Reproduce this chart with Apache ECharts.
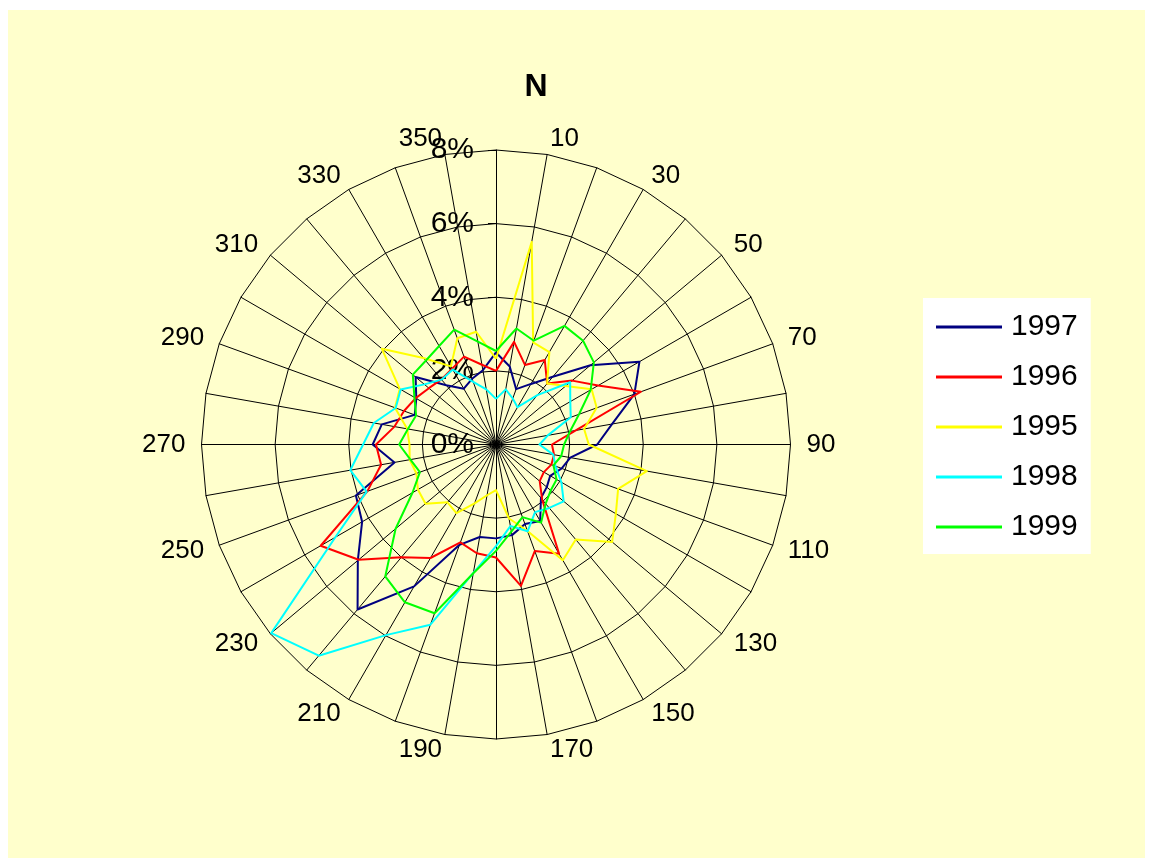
<!DOCTYPE html>
<html>
<head>
<meta charset="utf-8">
<script src="https://cdn.jsdelivr.net/npm/echarts@6/dist/echarts.min.js"></script>
<style>
html,body{margin:0;padding:0;background:#ffffff;}
#chart{position:absolute;left:8px;top:10px;width:1137px;height:848px;background:#FFFFCC;}
</style>
</head>
<body>
<div id="chart"></div>
<script>
// Wind directions (degrees), one spoke every 10 degrees
const directions = [0,10,20,30,40,50,60,70,80,90,100,110,120,130,140,150,160,170,
                    180,190,200,210,220,230,240,250,260,270,280,290,300,310,320,330,340,350];
const years = ['1997','1996','1995','1998','1999'];
// Frequency (%) per direction
const y1997 = [2.5,2.15,1.6,1.9,2.4,3.35,4.5,4.0,3.2,2.75,2.05,1.9,1.7,1.8,1.9,2.4,2.3,2.5,
               2.55,2.55,2.9,4.45,5.85,4.9,4.2,4.05,2.8,3.35,3.15,2.35,2.5,2.85,2.1,1.75,1.9,2.05];
const y1996 = [2.0,2.83,2.3,2.65,2.16,2.7,3.2,4.19,2.2,1.52,1.6,1.6,1.5,1.55,1.95,3.43,3.08,3.9,
               3.07,3.0,2.83,3.56,4.0,4.87,5.5,3.72,3.17,3.26,2.8,2.66,2.52,2.38,2.31,2.38,2.54,2.2];
const y1995 = [2.33,5.59,2.95,2.9,2.16,2.47,3.0,2.91,2.43,2.52,4.16,3.53,3.76,4.12,3.37,3.63,2.5,2.04,
               1.24,1.4,1.7,2.15,2.05,2.5,2.45,2.3,2.38,2.35,2.45,2.92,3.02,4.05,3.07,2.45,3.07,3.11];
const y1998 = [1.24,1.52,1.33,1.17,1.75,2.63,2.33,2.16,1.43,1.18,1.58,1.72,2.05,2.4,2.25,2.12,2.51,2.25,
               2.76,3.54,5.21,5.98,7.49,7.97,5.04,3.74,4.02,3.61,3.37,2.9,2.99,2.54,2.3,2.35,1.81,1.52];
const y1999 = [2.54,3.2,3.0,3.72,3.68,3.47,2.97,2.4,2.04,1.85,1.8,1.66,1.9,1.94,2.1,2.45,2.1,2.4,
               2.89,3.55,4.88,4.95,4.68,3.56,2.62,2.2,2.36,2.63,2.43,2.31,2.56,2.95,2.97,3.09,3.32,2.84];
const valueMin = 0, valueMax = 8;

const seriesValues = [y1997, y1996, y1995, y1998, y1999];
const colors = ['#000080','#FF0000','#FFFF00','#00FFFF','#00FF00'];
const FONT = '"Liberation Sans", Arial, sans-serif';

// ECharts radar runs counter-clockwise; reorder so directions run clockwise from north
const order = [0];
for (let k = directions.length - 1; k >= 1; k--) order.push(k);

const indicator = order.map((idx, k) => {
  const ind = { name: String(directions[idx]), min: valueMin, max: valueMax };
  if (k === 0) {
    ind.axisLabel = { show: true };
    ind.axisTick = { show: true, length: 8 };
  }
  return ind;
});

const chart = echarts.init(document.getElementById('chart'), null, { renderer: 'canvas' });
chart.setOption({
  animation: false,
  backgroundColor: '#FFFFCC',
  title: {
    text: 'N', left: 523, top: 56, textAlign: 'center',
    textStyle: { fontFamily: FONT, fontSize: 32, fontWeight: 'bold', color: '#000' }
  },
  legend: {
    orient: 'vertical', left: 915, top: 288,
    data: years, icon: 'rect', itemWidth: 66, itemHeight: 3, itemGap: 20,
    backgroundColor: '#ffffff', padding: [14, 13, 12, 13],
    textStyle: { fontFamily: FONT, fontSize: 30, color: '#000', lineHeight: 30, padding: [0, 0, 0, 4] }
  },
  radar: {
    center: [488, 434.5],
    radius: 294.5,
    startAngle: 90,
    shape: 'polygon',
    splitNumber: 4,
    indicator: indicator,
    nameGap: 16,
    axisName: {
      color: '#000', fontFamily: FONT, fontSize: 26,
      formatter: function (name) { return (Number(name) % 20 === 10) ? name : ''; }
    },
    axisLine: { lineStyle: { color: '#000', width: 1 } },
    axisTick: { show: false, lineStyle: { color: '#000' } },
    axisLabel: {
      show: false, color: '#000', fontFamily: FONT, fontSize: 30, margin: 22,
      formatter: function (v) { return v + '%'; }
    },
    splitLine: { lineStyle: { color: '#000', width: 1 } },
    splitArea: { show: false }
  },
  series: years.map((y, i) => ({
    type: 'radar',
    name: y,
    symbol: 'none',
    z: 2 + i,
    lineStyle: { color: colors[i], width: 2 },
    itemStyle: { color: colors[i] },
    data: [{ name: y, value: order.map(k => seriesValues[i][k]) }]
  }))
});
</script>
</body>
</html>
